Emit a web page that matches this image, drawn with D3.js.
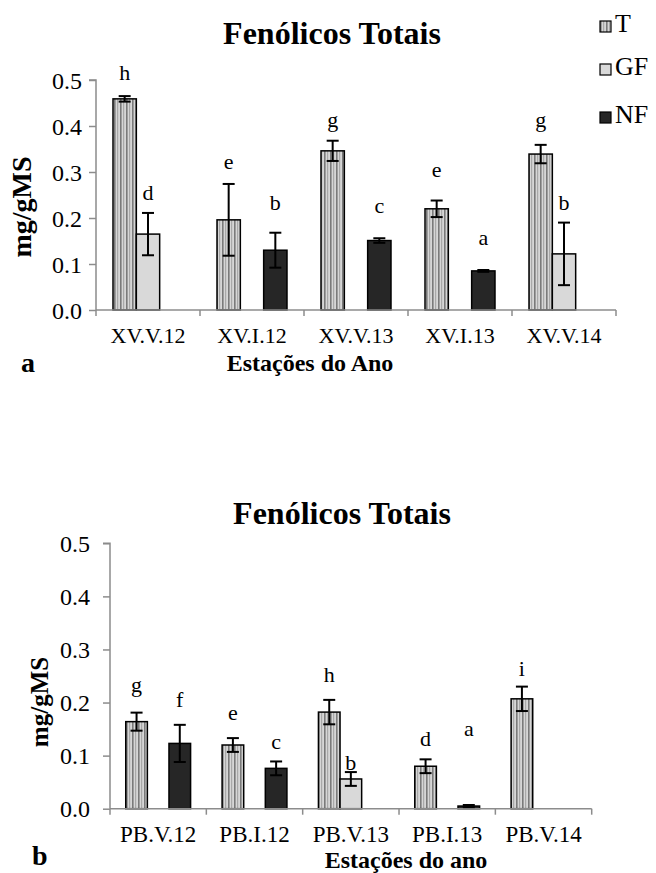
<!DOCTYPE html>
<html>
<head>
<meta charset="utf-8">
<script src="https://cdn.jsdelivr.net/npm/d3@7"></script>
<style>
  html, body { margin: 0; padding: 0; background: #fff; }
  svg { display: block; }
</style>
</head>
<body>
<svg id="chart" width="656" height="873"></svg>
<script>
// ---------------- DATA ----------------
const seriesNames = ["T", "GF", "NF"];
const yTicks = [0.0, 0.1, 0.2, 0.3, 0.4, 0.5];

// Panel a
const categoriesA = ["XV.V.12", "XV.I.12", "XV.V.13", "XV.I.13", "XV.V.14"];
const tA      = [0.459, 0.196, 0.346, 0.220, 0.339];
const tErrA   = [0.006, 0.078, 0.022, 0.018, 0.020];
const gfA     = [0.165, null, null, null, 0.122];
const gfErrA  = [0.046, null, null, null, 0.068];
const nfA     = [null, 0.130, 0.151, 0.085, null];
const nfErrA  = [null, 0.038, 0.005, 0.002, null];
const tLetA   = ["h", "e", "g", "e", "g"];
const gfLetA  = ["d", null, null, null, "b"];
const nfLetA  = [null, "b", "c", "a", null];
const tLetLvA  = [0.500, 0.306, 0.397, 0.290, 0.397];
const gfLetLvA = [0.239, null, null, null, 0.217];
const nfLetLvA = [null, 0.217, 0.211, 0.141, null];

// Panel b
const categoriesB = ["PB.V.12", "PB.I.12", "PB.V.13", "PB.I.13", "PB.V.14"];
const tB      = [0.164, 0.120, 0.182, 0.080, 0.207];
const tErrB   = [0.017, 0.013, 0.023, 0.013, 0.023];
const gfB     = [null, null, 0.056, null, null];
const gfErrB  = [null, null, 0.013, null, null];
const nfB     = [0.123, 0.076, null, 0.005, null];
const nfErrB  = [0.035, 0.013, null, 0.002, null];
const tLetB   = ["g", "e", "h", "d", "i"];
const gfLetB  = [null, null, "b", null, null];
const nfLetB  = ["f", "c", null, "a", null];
const tLetLvB  = [0.220, 0.167, 0.239, 0.118, 0.250];
const gfLetLvB = [null, null, 0.073, null, null];
const nfLetLvB = [0.192, 0.112, null, 0.137, null];

// ---------------- DRAW ----------------
const SERIF = "Liberation Serif";
const svg = d3.select("#chart");
const defs = svg.append("defs");
const pat = defs.append("pattern")
  .attr("id", "stripes").attr("patternUnits", "userSpaceOnUse")
  .attr("width", 6).attr("height", 10);
pat.append("rect").attr("width", 6).attr("height", 10).attr("fill", "#d6d6d6");
pat.append("rect").attr("x", 0).attr("width", 1.6).attr("height", 10).attr("fill", "#7a7a7a");
pat.append("rect").attr("x", 3).attr("width", 1.2).attr("height", 10).attr("fill", "#a8a8a8");

const fills = { T: "url(#stripes)", GF: "#d9d9d9", NF: "#262626" };
const axisColor = "#8c8c8c";

function txt(sel, size, bold) {
  sel.attr("font-family", SERIF).attr("font-size", size).attr("fill", "#000");
  if (bold) sel.attr("font-weight", "bold");
  return sel;
}

function drawPanel(cfg) {
  const g = svg.append("g");
  const x0 = d3.scaleBand().domain(cfg.categories).range(cfg.xRange)
    .paddingInner(0.327).paddingOuter(0.1635);
  const x1 = d3.scaleBand().domain(seriesNames).range([0, x0.bandwidth()]);
  const y = d3.scaleLinear().domain([0, 0.5]).range(cfg.yRange);

  const rows = [];
  cfg.categories.forEach((c, i) => {
    seriesNames.forEach(s => {
      const v = cfg.values[s][i];
      if (v === null) return;
      rows.push({ c, s, v, e: cfg.errs[s][i], l: cfg.letters[s][i], lv: cfg.levels[s][i] });
    });
  });

  // Y axis
  const yAxis = d3.axisLeft(y).tickValues(yTicks).tickFormat(d3.format(".1f"))
    .tickSize(7).tickPadding(cfg.tickPad);
  const ya = g.append("g").attr("transform", `translate(${cfg.xRange[0]},0)`).call(yAxis);
  ya.attr("font-family", SERIF).attr("font-size", cfg.tickFont);
  ya.select(".domain").attr("stroke", axisColor).attr("stroke-width", 1.5)
    .attr("d", `M-7,${y(0.5)}H0V${y(0)}`);
  ya.selectAll(".tick line").attr("stroke", axisColor).attr("stroke-width", 1.5);
  txt(ya.selectAll(".tick text"), cfg.tickFont, false).attr("dy", "0.34em");

  // bars
  g.selectAll("rect.bar").data(rows).enter().append("rect")
    .attr("class", "bar")
    .attr("x", d => x0(d.c) + x1(d.s))
    .attr("y", d => y(d.v))
    .attr("width", x1.bandwidth())
    .attr("height", d => y(0) - y(d.v))
    .attr("fill", d => fills[d.s])
    .attr("stroke", "#000").attr("stroke-width", 1.5);

  // X axis line + boundary ticks
  const step = x0.step();
  const bounds = cfg.categories.map(c => x0(c) - (step - x0.bandwidth()) / 2);
  bounds.push(cfg.xRange[1]);
  g.append("line").attr("x1", cfg.xRange[0]).attr("x2", cfg.xRange[1])
    .attr("y1", y(0)).attr("y2", y(0)).attr("stroke", axisColor).attr("stroke-width", 1.5);
  g.selectAll("line.xt").data(bounds).enter().append("line")
    .attr("x1", d => d).attr("x2", d => d).attr("y1", y(0)).attr("y2", y(0) + 6)
    .attr("stroke", axisColor).attr("stroke-width", 1.5);
  txt(g.selectAll("text.cat").data(cfg.categories).enter().append("text")
    .attr("x", d => x0(d) + x0.bandwidth() / 2).attr("y", y(0) + cfg.catDy)
    .attr("text-anchor", "middle").text(d => d), cfg.catFont, false);

  // error bars
  const eb = g.selectAll("g.err").data(rows.filter(d => d.e !== null)).enter().append("g");
  eb.each(function(d) {
    const cx = x0(d.c) + x1(d.s) + x1.bandwidth() / 2;
    const sel = d3.select(this);
    const top = y(d.v + d.e), bot = y(d.v - d.e);
    sel.append("line").attr("x1", cx).attr("x2", cx).attr("y1", top).attr("y2", bot);
    sel.append("line").attr("x1", cx - 6).attr("x2", cx + 6).attr("y1", top).attr("y2", top);
    sel.append("line").attr("x1", cx - 6).attr("x2", cx + 6).attr("y1", bot).attr("y2", bot);
    sel.selectAll("line").attr("stroke", "#000").attr("stroke-width", 2);
  });

  // letters
  txt(g.selectAll("text.let").data(rows.filter(d => d.l)).enter().append("text")
    .attr("x", d => x0(d.c) + x1(d.s) + x1.bandwidth() / 2)
    .attr("y", d => y(d.lv))
    .attr("text-anchor", "middle").text(d => d.l), 22, false);

  // titles
  txt(g.append("text").attr("x", cfg.title[0]).attr("y", cfg.title[1]).attr("text-anchor", "middle")
    .text("Fenólicos Totais"), 32, true);
  txt(g.append("text").attr("transform", `translate(${cfg.yTitle[0]},${cfg.yTitle[1]}) rotate(-90)`)
    .attr("text-anchor", "middle").text("mg/gMS"), cfg.yTitleFont, true);
  txt(g.append("text").attr("x", cfg.xTitle[0]).attr("y", cfg.xTitle[1]).attr("text-anchor", "middle")
    .text(cfg.xTitleText), cfg.xTitleFont, true);
  txt(g.append("text").attr("x", cfg.panel[0]).attr("y", cfg.panel[1]).text(cfg.panelText), 28, true);
}

drawPanel({
  categories: categoriesA,
  values: { T: tA, GF: gfA, NF: nfA },
  errs: { T: tErrA, GF: gfErrA, NF: nfErrA },
  letters: { T: tLetA, GF: gfLetA, NF: nfLetA },
  levels: { T: tLetLvA, GF: gfLetLvA, NF: nfLetLvA },
  xRange: [96, 616], yRange: [310, 80],
  tickPad: 7, tickFont: 24, catFont: 22, catDy: 33,
  title: [332, 44], yTitle: [31, 207], yTitleFont: 28,
  xTitle: [310, 371], xTitleText: "Estações do Ano", xTitleFont: 24,
  panel: [21, 372], panelText: "a"
});

drawPanel({
  categories: categoriesB,
  values: { T: tB, GF: gfB, NF: nfB },
  errs: { T: tErrB, GF: gfErrB, NF: nfErrB },
  letters: { T: tLetB, GF: gfLetB, NF: nfLetB },
  levels: { T: tLetLvB, GF: gfLetLvB, NF: nfLetLvB },
  xRange: [110, 591.7], yRange: [808.7, 543.3],
  tickPad: 13, tickFont: 24, catFont: 23, catDy: 33,
  title: [342, 524], yTitle: [48, 702], yTitleFont: 25,
  xTitle: [406, 868], xTitleText: "Estações do ano", xTitleFont: 24,
  panel: [32, 865], panelText: "b"
});

// legend
const legend = svg.append("g");
const legY = [21, 64, 112];
seriesNames.forEach((s, i) => {
  legend.append("rect").attr("x", 600).attr("y", legY[i]).attr("width", 11).attr("height", 11)
    .attr("fill", fills[s]).attr("stroke", "#000").attr("stroke-width", 1.2);
  txt(legend.append("text").attr("x", 615).attr("y", legY[i] + 11).text(s), 26, false);
});
</script>
</body>
</html>
